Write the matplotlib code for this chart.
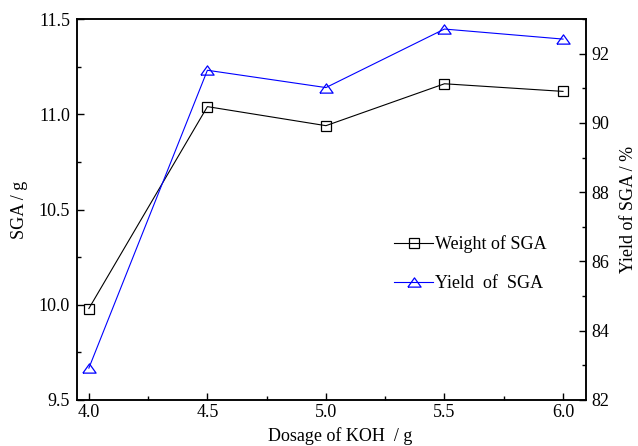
import numpy as np
import matplotlib.pyplot as plt
from matplotlib.ticker import MultipleLocator

plt.rcParams['font.family'] = ['Liberation Serif', 'DejaVu Serif']

# data
dosage = [4.0, 4.5, 5.0, 5.5, 6.0]
weight = [9.98, 11.04, 10.94, 11.16, 11.12]
yield_pct = [82.92, 91.52, 91.02, 92.71, 92.42]

# wide, flat triangle like the original marker
tri = [(-1, -0.7), (1, -0.7), (0, 0.7), (-1, -0.7)]

fig = plt.figure(figsize=(6.38, 4.46), dpi=100)
ax = fig.add_axes([77 / 638, 46 / 446, 509 / 638, 381 / 446])
ax2 = ax.twinx()

l1, = ax.plot(dosage, weight, color='black', lw=0.8, marker='s', ms=6.5,
              mfc='none', mec='black', mew=0.9, label='Weight of SGA')
l2, = ax2.plot(dosage, yield_pct, color='blue', lw=0.8, marker=tri, ms=9.5,
               mfc='none', mec='blue', mew=0.9, label='Yield  of  SGA')

ax.set_xlim(3.95, 6.097)
ax.set_ylim(9.5, 11.5)
ax2.set_ylim(82, 93)

ax.set_xticks(dosage)
ax.set_xticklabels(['4.0', '4.5', '5.0', '5.5', '6.0'])
ax.xaxis.set_minor_locator(MultipleLocator(0.25))
ax.set_yticks([9.5, 10.0, 10.5, 11.0, 11.5])
ax.set_yticklabels(['9.5', '10.0', '10.5', '11.0', '11.5'])
ax.yaxis.set_minor_locator(MultipleLocator(0.25))
ax2.set_yticks([82, 84, 86, 88, 90, 92])
ax2.yaxis.set_minor_locator(MultipleLocator(1))

for a in (ax, ax2):
    a.tick_params(which='both', direction='in', labelsize=13, width=1)
    a.tick_params(which='major', length=5)
    a.tick_params(which='minor', length=3)
    for s in a.spines.values():
        s.set_linewidth(1.1)
ax.tick_params(axis='x', pad=3)
ax.tick_params(axis='y', pad=5)
ax2.tick_params(axis='y', pad=4)

ax.set_xlabel('Dosage of KOH  / g', fontsize=13)
ax.xaxis.set_label_coords(0.517, -0.071)
ax.set_ylabel('SGA / g', fontsize=13)
ax.yaxis.set_label_coords(-0.096, 0.5)
ax2.set_ylabel('Yield of SGA / %', fontsize=13)
ax2.yaxis.set_label_coords(1.067, 0.5)

ax.legend(handles=[l1, l2], loc='center left', bbox_to_anchor=(0.623, 0.358),
          frameon=False, fontsize=13, handlelength=2.15, handletextpad=0.1,
          labelspacing=1.22, borderaxespad=0, borderpad=0)

fig.savefig('out.png', dpi=100)
